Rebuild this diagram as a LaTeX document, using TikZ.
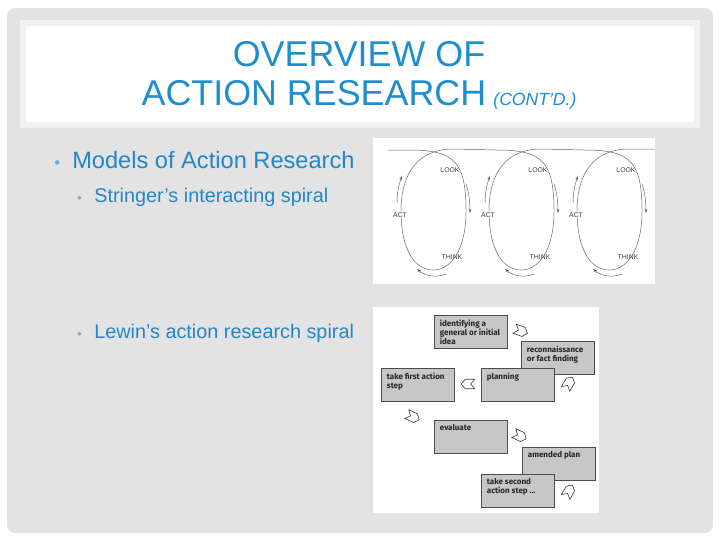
\documentclass[tikz,border=0pt]{standalone}
\usepackage{fontspec}
\setmainfont{Liberation Sans}
\newfontfamily\lewinfont{Fira Sans}
\usetikzlibrary{shapes.geometric,shapes.symbols,arrows.meta}
\definecolor{slidegray}{HTML}{E3E3E3}
\definecolor{titleedge}{HTML}{F1F1F1}
\definecolor{ttlblue}{HTML}{1E8ECF}
\definecolor{txtblue}{HTML}{2486C6}
\definecolor{bulblue}{HTML}{6BAFD9}
\definecolor{boxgray}{HTML}{C7C7C7}
\tikzset{ttl/.style={text=ttlblue,font=\fontsize{25.5}{27.6}\selectfont,anchor=base,inner sep=0},
 mainitem/.style={text=txtblue,font=\fontsize{16.8}{20}\selectfont,anchor=base west,inner sep=0},
 subitem/.style={mainitem,font=\fontsize{14.1}{17}\selectfont},
 bul/.style={text=bulblue,anchor=base west,inner sep=0},
 photo/.style={fill=white},
 sword/.style={inner sep=0.6pt,text=black!75,font=\fontsize{4.9}{5}\selectfont},
 spiral/.style={draw=black!60,line width=0.35pt},
 lbox/.style={draw=black!70,fill=boxgray,line width=0.4pt,anchor=north west,inner xsep=0.14cm,inner ysep=0.11cm,text=black!85,font=\lewinfont\bfseries\fontsize{5.7}{6.4}\selectfont},
 hand/.style={signal,signal to=east,signal from=west,signal pointer angle=100,draw=black!75,fill=white,line width=0.45pt,inner sep=0,minimum width=0.34cm,minimum height=0.24cm}}
\newcommand{\boxtxt}[1]{\parbox[t][0.605cm][t]{1.545cm}{\raggedright #1}}

\begin{document}
\begin{tikzpicture}[x=0.025cm,y=-0.025cm]
\useasboundingbox (0,0) rectangle (720,540);
\fill[white] (0,0) rectangle (720,540);
\fill[slidegray,rounded corners=0.2cm] (7,8) rectangle (713,533);
\fill[titleedge] (20,20) rectangle (700,128);
\fill[white] (26,26) rectangle (694,122);
% title
\node[ttl] (t1) at (359,66) {OVERVIEW OF};
\node[ttl] (t2) at (359,105) {ACTION RESEARCH\hspace{0.2em}{\fontsize{12.5}{14}\selectfont\itshape (CONT'D.)}};
% bullets
\node[bul,font=\fontsize{12}{12}\selectfont] (b1) at (54,168) {•};
\node[mainitem] (m1) at (72,168) {Models of Action Research};
\node[bul,font=\fontsize{9}{10}\selectfont] (b2) at (77,202) {•};
\node[subitem] (s1) at (94,202) {Stringer’s interacting spiral};
\node[bul,font=\fontsize{9}{10}\selectfont] (b3) at (77,338) {•};
\node[subitem] (s2) at (94,338) {Lewin’s action research spiral};
% Stringer
\fill[photo] (373,138) rectangle (655,284);
\draw[spiral] (388,150) \foreach \c in {433,521,609}{
 -- (\c-25,150) .. controls (\c+20,150) and (\c+33,160) .. (\c+33,211)
 .. controls (\c+33,250) and (\c+18,270) .. (\c,270)
 .. controls (\c-18,270) and (\c-32,250) .. (\c-32,211)
 .. controls (\c-32,172) and (\c-14,149) .. (\c+20,149)} -- (655,149);
\foreach \c [count=\i] in {433,521,609}{
 \node[sword] (look\i) at (\c+17,170) {LOOK};
 \node[sword,fill=white] (act\i) at (\c-33,215) {ACT};
 \node[sword] (think\i) at (\c+19,257) {THINK};
 \draw[spiral,-{Stealth[length=3pt,width=2pt]}] (\c+33,184) .. controls (\c+36,193) and (\c+37,203) .. (\c+37,213);
 \draw[spiral,-{Stealth[length=3pt,width=2pt]}] (\c-36,203) .. controls (\c-36,193) and (\c-34,184) .. (\c-31,176);
 \draw[spiral,-{Stealth[length=3pt,width=2pt]}] (\c+13,274) .. controls (\c+3,278) and (\c-8,276) .. (\c-16,269);
}
% Lewin
\fill[photo] (373,307) rectangle (599,513);
\node[lbox] (idea) at (434,315) {\boxtxt{identifying a\\general or initial\\idea}};
\node[lbox] (recon) at (521,341) {\boxtxt{reconnaissance\\or fact finding}};
\node[lbox] (first) at (381,368) {\boxtxt{take first action\\step}};
\node[lbox] (plan) at (481,368) {\boxtxt{planning}};
\node[lbox] (eval) at (434,420) {\boxtxt{evaluate}};
\node[lbox] (amend) at (522,447) {\boxtxt{amended plan}};
\node[lbox] (second) at (481,474) {\boxtxt{take second\\action step ...}};
\node[hand,rotate=-20] (h1) at (521,331) {};
\node[hand,rotate=60] (h2) at (569,383) {};
\node[hand,rotate=180] (h3) at (468,384) {};
\node[hand,rotate=-25] (h4) at (413,417) {};
\node[hand,rotate=-25] (h5) at (520,436) {};
\node[hand,rotate=60] (h6) at (569,491) {};
\end{tikzpicture}
\end{document}
